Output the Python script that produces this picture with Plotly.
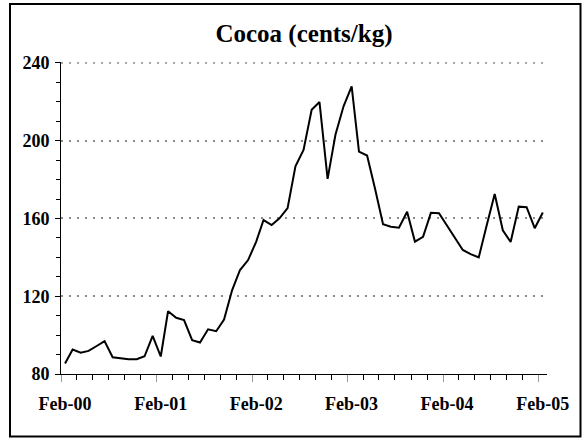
import pandas as pd
import plotly.graph_objects as go

# Monthly cocoa prices, Feb-2000 .. Feb-2005 (cents/kg)
months = pd.date_range("2000-02-01", periods=61, freq="MS")
prices = [
    85.4, 92.6, 91.0, 91.9, 94.4, 96.9, 88.6, 88.1, 87.6, 87.6, 89.1, 99.6,
    89.0, 112.3, 108.9, 107.7, 97.4, 96.2, 103.0, 102.0, 108.0, 123.2, 133.5, 138.6,
    148.1, 159.2, 156.6, 160.1, 165.3, 186.8, 195.3, 215.9, 219.9, 180.4, 203.1, 217.7,
    228.0, 194.4, 192.4, 175.6, 157.0, 155.8, 155.3, 163.5, 148.1, 150.6, 162.9, 162.7,
    156.4, 150.1, 143.8, 141.7, 140.0, 156.3, 172.6, 153.9, 147.9, 166.1, 165.8, 155.0,
    163.1,
]
tick_labels = ["Feb-00", "Feb-01", "Feb-02", "Feb-03", "Feb-04", "Feb-05"]
year_bounds = ["2000-01-16 12:00", "2001-01-16 12:00", "2002-01-16 12:00",
               "2003-01-16 12:00", "2004-01-16 12:00", "2005-01-16 12:00"]
y_ticks = [80, 120, 160, 200, 240]

W, H = 582, 438
L, R, T, B = 61, 35, 62, 64
GRID = dict(color="#8c8c8c", width=1.5, dash="2px,6px")

fig = go.Figure()
fig.add_trace(go.Scatter(
    x=months, y=prices, mode="lines",
    line=dict(color="black", width=2),
    showlegend=False, hoverinfo="skip",
))

font_family = "Liberation Serif"

fig.update_layout(
    width=W, height=H,
    margin=dict(l=L, r=R, t=T, b=B),
    paper_bgcolor="white", plot_bgcolor="white",
    title=dict(
        text="<b>Cocoa (cents/kg)</b>", x=0.5, xref="paper",
        y=1 - 33 / H, yref="container", yanchor="middle", xanchor="center",
        font=dict(family=font_family, size=25, color="black"),
    ),
    xaxis=dict(
        type="date",
        range=["2000-01-16 12:00", "2005-02-17"],
        tickmode="array", tickvals=year_bounds,
        ticktext=["<b>%s</b>" % t for t in tick_labels],
        ticklabelshift=4,
        ticks="outside", ticklen=7, tickcolor="#999999", tickwidth=1,
        showgrid=False, zeroline=False,
        showline=True, linecolor="black", linewidth=1,
        tickfont=dict(family=font_family, size=18, color="black"),
        ticklabelstandoff=6,
        minor=dict(tick0="2000-01-16 12:00", dtick="M2", ticks="outside",
                   ticklen=5, tickcolor="black", tickwidth=1, showgrid=False),
    ),
    yaxis=dict(
        range=[80, 240.5],
        tickmode="array", tickvals=y_ticks,
        ticktext=["<b>%d</b>" % v for v in y_ticks],
        ticks="outside", ticklen=5, tickcolor="black", tickwidth=1,
        showgrid=True, gridcolor=GRID["color"], gridwidth=GRID["width"], griddash=GRID["dash"],
        zeroline=False,
        showline=True, linecolor="black", linewidth=1,
        tickfont=dict(family=font_family, size=18, color="black"),
        ticklabelstandoff=2,
        minor=dict(dtick=10, tick0=80, ticks="outside", ticklen=4,
                   tickcolor="black", tickwidth=1, showgrid=False),
    ),
)

# top gridline (plotly clips the gridline that sits at the plot edge)
fig.add_hline(y=y_ticks[-1], line=GRID, layer="below")

pw = W - L - R
ph = H - T - B
def px_x(x):
    return (x - L) / pw
def px_y(y):
    return (H - B - y) / ph

fig.add_shape(
    type="rect", xref="paper", yref="paper",
    x0=px_x(10), x1=px_x(580.5), y0=px_y(436.5), y1=px_y(4),
    line=dict(color="black", width=2), fillcolor="rgba(0,0,0,0)", layer="below",
)

fig.write_html(
    "out.html",
    config={"displayModeBar": False},
    post_script="document.body.style.margin='0';document.body.style.overflow='hidden';",
)
